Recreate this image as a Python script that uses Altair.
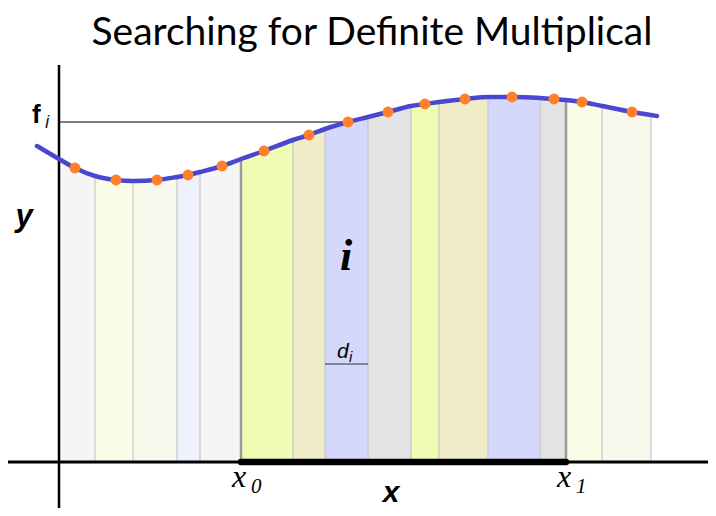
import altair as alt
import pandas as pd

# ---- data (x, y in chart units; origin at the axes' crossing) ----
curve_x = [-0.44, 0.0, 0.32, 0.72, 1.14, 1.48, 1.96, 2.36, 2.58, 2.82, 3.26, 3.64, 4.10,
           4.68, 5.00, 5.32, 5.78, 6.18, 6.58, 7.04, 7.32, 7.60, 8.12, 8.58, 9.06, 9.62,
           9.90, 10.14, 10.46, 10.86, 11.46, 11.84, 11.96]
curve_y = [6.32, 6.06, 5.88, 5.72, 5.64, 5.62, 5.64, 5.70, 5.74, 5.80, 5.92, 6.06, 6.22,
           6.44, 6.54, 6.66, 6.80, 6.90, 7.00, 7.12, 7.16, 7.20, 7.26, 7.30, 7.30, 7.28,
           7.26, 7.24, 7.20, 7.12, 7.00, 6.94, 6.92]
boundaries = [0.0, 0.72, 1.48, 2.36, 2.82, 3.64, 4.68, 5.32, 6.18, 7.04, 7.60, 8.58,
              9.62, 10.14, 10.86, 11.84]
strip_colors = ["#f5f5f5", "#fbfde9", "#f9f8ec", "#eff1fd", "#f5f5f5",
                "#effdb4", "#f1ecc8", "#d4d8fc", "#e3e3e3", "#effdb4",
                "#f1ecc8", "#d4d8fc", "#e3e3e3", "#fbfde9", "#f9f8ec"]
point_x = [0.32, 1.14, 1.96, 2.58, 3.26, 4.10, 5.00, 5.78, 6.58, 7.32, 8.12, 9.06,
           9.90, 10.46, 11.46]
x0_val, x1_val = 3.64, 10.14
fi_x = 5.78
di_strip = 7

curve = dict(zip(curve_x, curve_y))

# ---- tables built from the arrays ----
curve_df = pd.DataFrame({"x": curve_x, "y": curve_y})
rows = []
for k in range(len(strip_colors)):
    lo, hi = boundaries[k], boundaries[k + 1]
    for xv, yv in zip(curve_x, curve_y):
        if lo - 1e-9 <= xv <= hi + 1e-9:
            rows.append({"x": xv, "y": yv, "strip": k})
strip_df = pd.DataFrame(rows)
edge_df = pd.DataFrame({
    "x": boundaries[1:],
    "y": [curve[b] for b in boundaries[1:]],
    "kind": ["limit" if b in (x0_val, x1_val) else "edge" for b in boundaries[1:]],
})
pts_df = pd.DataFrame({"x": point_x, "y": [curve[p] for p in point_x]})

X_LO, X_HI = -1.02, 12.98
Y_LO, Y_HI = -0.92, 9.08
XS = alt.Scale(domain=[X_LO, X_HI], nice=False, zero=False)
YS = alt.Scale(domain=[Y_LO, Y_HI], nice=False, zero=False)

SERIF = "Liberation Serif"
SANS = "Liberation Sans"


def X(f="x", **kw):
    return alt.X(f, type="quantitative", scale=XS, axis=None, **kw)


def Y(f="y", **kw):
    return alt.Y(f, type="quantitative", scale=YS, axis=None, **kw)


areas = alt.Chart(strip_df).mark_area(interpolate="monotone").encode(
    x=X(), y=Y(stack=None), y2=alt.datum(0),
    color=alt.Color("strip:O", scale=alt.Scale(domain=list(range(len(strip_colors))),
                                               range=strip_colors), legend=None),
)

edges = alt.Chart(edge_df[edge_df.kind == "edge"]).mark_rule(color="#c6c6c6", strokeWidth=1.2).encode(
    x=X(), y=Y(), y2=alt.datum(0))
limits = alt.Chart(edge_df[edge_df.kind == "limit"]).mark_rule(color="#9a9a9a", strokeWidth=2.5).encode(
    x=X(), y=Y(), y2=alt.datum(0))

fi_line = alt.Chart(pd.DataFrame({"x": [0.0], "x2": [fi_x], "y": [curve[fi_x]]})).mark_rule(
    color="#000000", strokeWidth=1).encode(x=X(), x2="x2", y=Y())
di_line = alt.Chart(pd.DataFrame({"x": [boundaries[di_strip]], "x2": [boundaries[di_strip + 1]],
                                  "y": [1.96]})).mark_rule(color="#333333", strokeWidth=1).encode(
    x=X(), x2="x2", y=Y())

x_axis = alt.Chart(pd.DataFrame({"x": [X_LO], "x2": [X_HI], "y": [0.0]})).mark_rule(
    color="#000000", strokeWidth=3).encode(x=X(), x2="x2", y=Y())
y_axis = alt.Chart(pd.DataFrame({"x": [0.0], "y": [7.94], "y2": [Y_LO]})).mark_rule(
    color="#000000", strokeWidth=2.5).encode(x=X(), y=Y(), y2="y2")
span = alt.Chart(pd.DataFrame({"x": [x0_val], "x2": [x1_val], "y": [0.0]})).mark_rule(
    color="#000000", strokeWidth=6.5, strokeCap="round").encode(x=X(), x2="x2", y=Y())

line = alt.Chart(curve_df).mark_line(color="#4747cf", strokeWidth=4.5, interpolate="monotone",
                                     strokeCap="round").encode(x=X(), y=Y())
points = alt.Chart(pts_df).mark_circle(color="#ff7f2a", opacity=1, size=120).encode(x=X(), y=Y())


def label(xv, yv, txt, **kw):
    kw.setdefault("color", "#000000")
    return alt.Chart(pd.DataFrame({"x": [xv], "y": [yv], "t": [txt]})).mark_text(
        baseline="alphabetic", **kw).encode(x=X(), y=Y(), text="t:N")


title = label(6.26, 8.34, "Searching for Definite Multiplical", font="Lato", fontSize=39,
              align="center")
f_lab = label(-0.54, 6.78, "f", font=SANS, fontSize=26, fontWeight="bold", align="left")
fi_sub = label(-0.28, 6.68, "i", font=SANS, fontSize=19, fontStyle="italic", align="left",
               color="#1a1a40")
y_lab = label(-0.70, 4.72, "y", font=SANS, fontSize=31, fontWeight="bold",
              fontStyle="italic", align="center")
x_lab = label(6.64, -0.80, "x", font=SANS, fontSize=30, fontWeight="bold",
              fontStyle="italic", align="center")
i_lab = label(5.74, 3.84, "i", font=SERIF, fontSize=44, fontWeight="bold",
              fontStyle="italic", align="center")
d_lab = label(5.56, 2.08, "d", font=SANS, fontSize=21, fontStyle="italic", align="left")
d_sub = label(5.80, 2.00, "i", font=SANS, fontSize=15, fontStyle="italic", align="left")
x0_lab = label(3.46, -0.50, "x", font=SERIF, fontSize=32, fontStyle="italic", align="left")
x0_sub = label(3.84, -0.62, "0", font=SERIF, fontSize=21, fontStyle="italic", align="left")
x1_lab = label(9.96, -0.50, "x", font=SERIF, fontSize=32, fontStyle="italic", align="left")
x1_sub = label(10.34, -0.62, "1", font=SERIF, fontSize=21, fontStyle="italic", align="left")

chart = alt.layer(
    areas, edges, limits, fi_line, di_line, x_axis, y_axis, span, line, points,
    title, f_lab, fi_sub, y_lab, x_lab, i_lab, d_lab, d_sub, x0_lab, x0_sub, x1_lab, x1_sub,
).properties(
    width=700, height=500, autosize=alt.AutoSizeParams(type="none"), padding=0,
    background="#ffffff",
).configure_view(stroke=None)

chart.save("out.html", embed_options={"renderer": "svg", "actions": False})
